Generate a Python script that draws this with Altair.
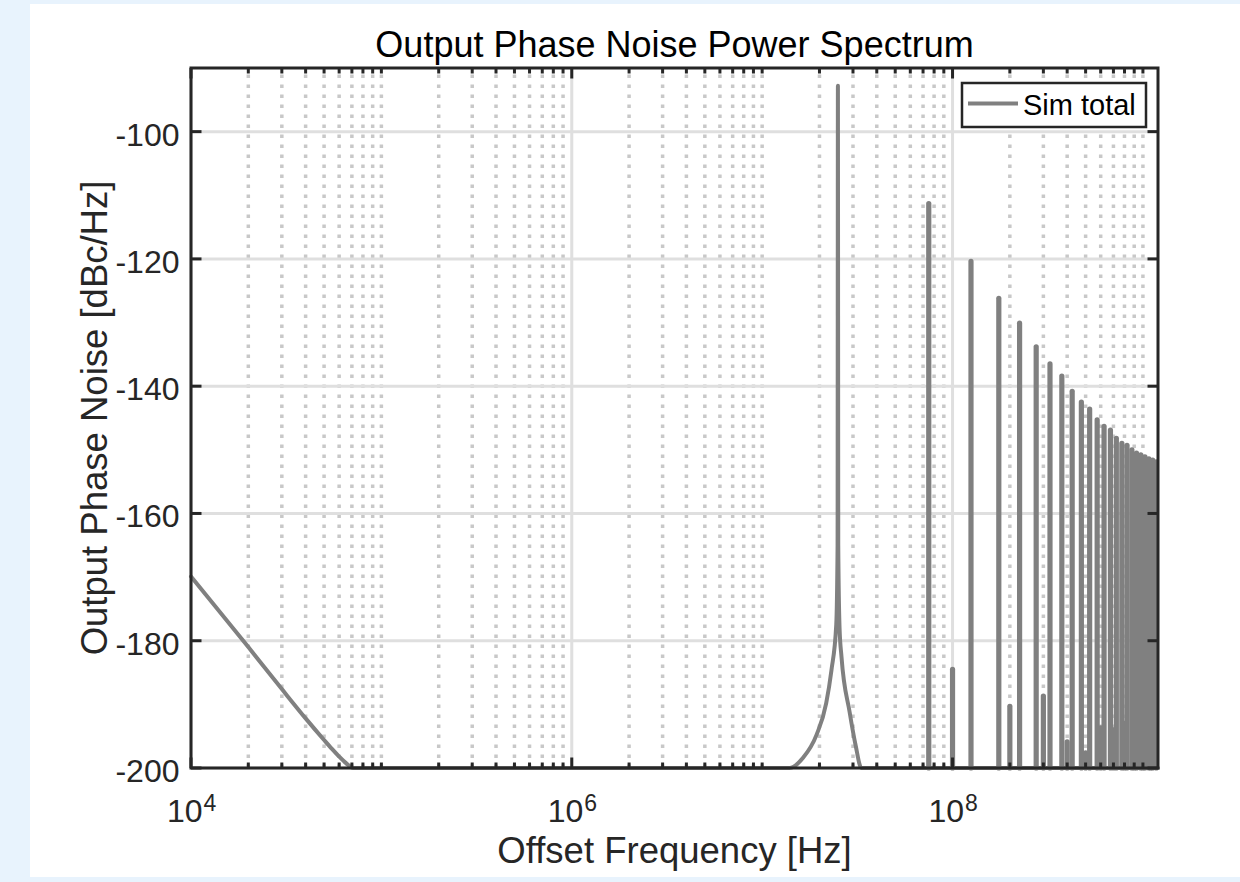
import altair as alt
import pandas as pd

FONT = "Liberation Sans"
W, H = 967, 700

# ---- data ----
# main trace: low-offset roll-off, clipped floor and the fundamental spur
trace_freq = [1e4, 2e4, 3e4, 4e4, 5e4, 5.5e4, 6e4, 6.5e4, 7.1e4,
              1.39e7, 1.64e7, 1.93e7, 2.17e7, 2.31e7, 2.45e7, 2.49e7, 2.5e7,
              2.51e7, 2.55e7, 2.61e7, 2.88e7, 3.1e7, 3.32e7, 1.2e9]
trace_pn = [-169.9, -181.0, -187.6, -192.2, -195.6, -197.0, -198.2, -199.2, -200,
            -200, -198.4, -194.8, -189.8, -184.7, -177.5, -165, -92.8,
            -165, -178, -182.5, -191.2, -196.5, -200, -200]

# harmonic spurs (frequency, peak level)
spur_freq = [7.5e7, 1e8, 1.25e8, 1.75e8, 2e8, 2.25e8, 2.75e8, 3e8, 3.25e8, 3.75e8,
             4e8, 4.25e8, 4.75e8, 5e8, 5.25e8, 5.75e8, 6e8, 6.25e8, 6.75e8, 7e8,
             7.25e8, 7.75e8, 8e8, 8.25e8, 8.75e8, 9e8, 9.25e8, 9.75e8, 1e9,
             1.025e9, 1.075e9, 1.1e9, 1.125e9, 1.175e9]
spur_pn = [-111.3, -184.5, -120.4, -126.2, -190.3, -130.1, -133.8, -188.7, -136.5, -138.4,
           -195.9, -140.8, -142.5, -197.6, -143.6, -145.3, -193.7, -146.3, -146.9, -194.0,
           -148.2, -149.0, -193.0, -149.3, -150.0, -194.0, -150.5, -150.8, -193.0,
           -151.1, -151.4, -195.0, -151.6, -151.9]

# axes ticks / grid / labels
x_major_ticks = [1e4, 1e6, 1e8]
x_major_exp = ["4", "6", "8"]
x_minor_ticks = [2e4, 3e4, 4e4, 5e4, 6e4, 7e4, 8e4, 9e4, 1e5,
                 2e5, 3e5, 4e5, 5e5, 6e5, 7e5, 8e5, 9e5,
                 2e6, 3e6, 4e6, 5e6, 6e6, 7e6, 8e6, 9e6, 1e7,
                 2e7, 3e7, 4e7, 5e7, 6e7, 7e7, 8e7, 9e7,
                 2e8, 3e8, 4e8, 5e8, 6e8, 7e8, 8e8, 9e8, 1e9]
y_ticks = [-200, -180, -160, -140, -120, -100]
y_tick_labels = ["-200", "-180", "-160", "-140", "-120", "-100"]

series_name = "Sim total"
title_text = "Output Phase Noise Power Spectrum"
x_title = "Offset Frequency [Hz]"
y_title = "Output Phase Noise [dBc/Hz]"

# ---- tables ----
trace_df = pd.DataFrame({"f": trace_freq, "pn": trace_pn, "series": series_name})
spur_df = pd.DataFrame({"f": spur_freq, "pn": spur_pn})
xmaj_df = pd.DataFrame({"f": x_major_ticks, "exp": x_major_exp})
xmin_df = pd.DataFrame({"f": x_minor_ticks})
y_df = pd.DataFrame({"v": y_ticks, "lab": y_tick_labels})
one = pd.DataFrame({"a": [0]})

xs = alt.Scale(type="log", domain=[1e4, 1.2e9], nice=False)
ys = alt.Scale(domain=[-200, -90], nice=False, zero=False)

GRAY = "#808080"
DARK = "#262626"


def X(field="f"):
    return alt.X(f"{field}:Q", scale=xs, axis=None)


def Y(field):
    return alt.Y(f"{field}:Q", scale=ys, axis=None)


# white figure panel
panel = alt.Chart(one).mark_rect(fill="white").encode(
    x=alt.value(-161), x2=alt.value(1049), y=alt.value(-64), y2=alt.value(809))

grid_xmaj = alt.Chart(xmaj_df).mark_rule(color="#dfdfdf", strokeWidth=3).encode(
    x=X(), y=alt.value(0), y2=alt.value(H))
grid_xmin = alt.Chart(xmin_df).mark_rule(color="#c8c8c8", strokeWidth=3.5,
                                         strokeDash=[3.5, 6.5]).encode(
    x=X(), y=alt.value(H), y2=alt.value(0))
grid_y = alt.Chart(y_df).mark_rule(color="#dfdfdf", strokeWidth=3).encode(
    y=Y("v"), x=alt.value(0), x2=alt.value(W))

trace = alt.Chart(trace_df).mark_line(strokeWidth=4, strokeJoin="round",
                                      strokeCap="round", interpolate="monotone",
                                      color=GRAY).encode(
    x=X("f"), y=Y("pn"), order=alt.Order("f:Q"))

spurs = alt.Chart(spur_df).mark_rule(color=GRAY, strokeWidth=5.2, strokeCap="round").encode(
    x=X(), y=Y("pn"), y2=alt.datum(-200))

TK = 10.5
TK2 = 5.5
ticks_xmaj_b = alt.Chart(xmaj_df).mark_rule(color=DARK, strokeWidth=3).encode(
    x=X(), y=alt.value(H), y2=alt.value(H - TK))
ticks_xmaj_t = alt.Chart(xmaj_df).mark_rule(color=DARK, strokeWidth=3).encode(
    x=X(), y=alt.value(0), y2=alt.value(TK))
ticks_xmin_b = alt.Chart(xmin_df).mark_rule(color=DARK, strokeWidth=3).encode(
    x=X(), y=alt.value(H), y2=alt.value(H - TK2))
ticks_xmin_t = alt.Chart(xmin_df).mark_rule(color=DARK, strokeWidth=3).encode(
    x=X(), y=alt.value(0), y2=alt.value(TK2))
ticks_y_l = alt.Chart(y_df).mark_rule(color=DARK, strokeWidth=3).encode(
    y=Y("v"), x=alt.value(0), x2=alt.value(TK))
ticks_y_r = alt.Chart(y_df).mark_rule(color=DARK, strokeWidth=3).encode(
    y=Y("v"), x=alt.value(W), x2=alt.value(W - TK))

frame = alt.Chart(one).mark_rect(filled=False, stroke=DARK, strokeWidth=3).encode(
    x=alt.value(0), x2=alt.value(W), y=alt.value(0), y2=alt.value(H))

# tick labels
xlab_base = alt.Chart(xmaj_df).mark_text(align="right", baseline="alphabetic", dx=11.5,
                                         fontSize=32, font=FONT, color=DARK).encode(
    x=X(), y=alt.value(754), text=alt.value("10"))
xlab_exp = alt.Chart(xmaj_df).mark_text(align="left", baseline="alphabetic", dx=12.5,
                                        fontSize=23, font=FONT, color=DARK).encode(
    x=X(), y=alt.value(742.5), text="exp:N")
ylab = alt.Chart(y_df).mark_text(align="right", baseline="middle", dy=4,
                                 fontSize=32, font=FONT, color=DARK).encode(
    y=Y("v"), x=alt.value(-11.5), text="lab:N")

# titles
t_main = alt.Chart(one).mark_text(align="center", baseline="alphabetic", fontSize=36,
                                  font=FONT, color="#000000").encode(
    x=alt.value(W / 2), y=alt.value(-11), text=alt.value(title_text))
t_x = alt.Chart(one).mark_text(align="center", baseline="alphabetic", fontSize=36.5,
                               font=FONT, color=DARK).encode(
    x=alt.value(W / 2), y=alt.value(795), text=alt.value(x_title))
t_y = alt.Chart(one).mark_text(align="center", baseline="alphabetic", fontSize=36.5,
                               angle=270, font=FONT, color=DARK).encode(
    x=alt.value(-84.5), y=alt.value(H / 2), text=alt.value(y_title))

# legend box (top-right, inside the axes)
leg_box = alt.Chart(one).mark_rect(fill="white", stroke=DARK, strokeWidth=2.5).encode(
    x=alt.value(771), x2=alt.value(955), y=alt.value(15), y2=alt.value(59))
leg_line = alt.Chart(one).mark_rule(color=GRAY, strokeWidth=4).encode(
    x=alt.value(777), x2=alt.value(827), y=alt.value(35.5))
leg_text = alt.Chart(one).mark_text(align="left", baseline="alphabetic", fontSize=29,
                                    font=FONT, color="#000000").encode(
    x=alt.value(832), y=alt.value(46.5), text=alt.value(series_name))

chart = alt.layer(
    panel, grid_xmaj, grid_xmin, grid_y, trace, spurs,
    ticks_xmaj_b, ticks_xmaj_t, ticks_xmin_b, ticks_xmin_t, ticks_y_l, ticks_y_r,
    frame, xlab_base, xlab_exp, ylab, t_main, t_x, t_y,
    leg_box, leg_line, leg_text,
).properties(
    width=W, height=H,
    padding={"left": 191, "top": 68, "right": 82, "bottom": 114},
    autosize=alt.AutoSizeParams(type="none"),
    background="#e8f3fd",
).configure_view(stroke=None)

chart.save("out.html", embed_options={"renderer": "svg", "actions": False})
